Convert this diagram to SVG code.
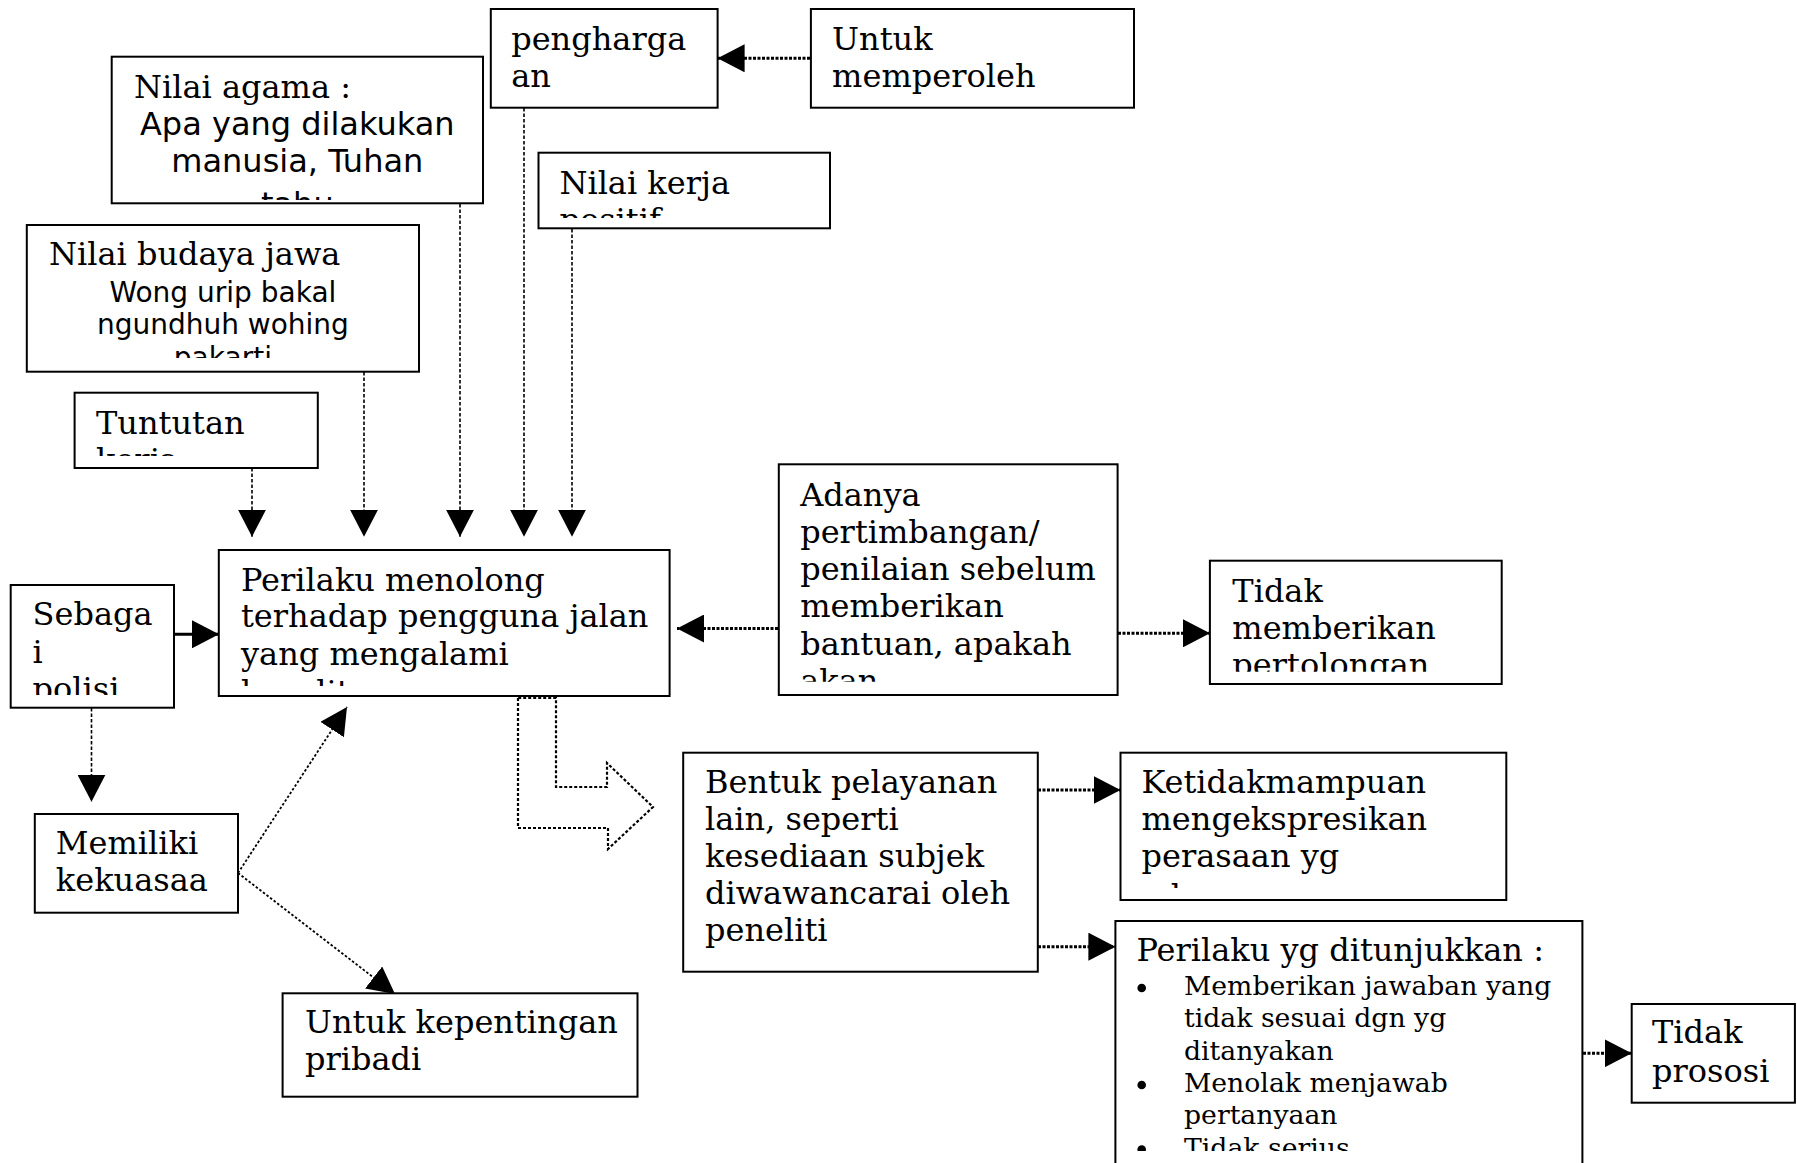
<svg xmlns="http://www.w3.org/2000/svg" width="1797" height="1163" viewBox="0 0 1797 1163">
<style>
.box{fill:#fff;stroke:#000;stroke-width:2}
.t{font-family:"DejaVu Serif",serif;font-size:32px;fill:#000}
.s{font-family:"DejaVu Sans",sans-serif;font-size:32px;fill:#000;text-anchor:middle}
.s28{font-size:28px}
.b{font-size:26.7px}
.dash{stroke:#000;stroke-width:1.6;stroke-dasharray:3.5 2;fill:none}
.dot{stroke:#000;stroke-width:3;stroke-dasharray:3 1.5;fill:none}
.thin{stroke:#000;stroke-width:1.8;stroke-dasharray:2.5 2;fill:none}
.solid{stroke:#000;stroke-width:3;fill:none}
.blk{fill:none;stroke:#000;stroke-width:2.2;stroke-dasharray:3 2}
</style>
<defs>
<marker id="ah" markerUnits="userSpaceOnUse" markerWidth="27" markerHeight="28" viewBox="0 0 27 28" refX="27" refY="14" orient="auto"><path d="M0,0 L27,14 L0,28 z" fill="#000"/></marker>
<clipPath id="c-agama"><rect x="113" y="58" width="369" height="142"/></clipPath>
<clipPath id="c-budaya"><rect x="28" y="226" width="390" height="132"/></clipPath>
<clipPath id="c-tuntutan"><rect x="76" y="394" width="240" height="62"/></clipPath>
<clipPath id="c-kerja"><rect x="540" y="154" width="289" height="64"/></clipPath>
<clipPath id="c-sebagai"><rect x="12" y="586" width="161" height="109"/></clipPath>
<clipPath id="c-perilaku"><rect x="220" y="551" width="449" height="135"/></clipPath>
<clipPath id="c-adanya"><rect x="780" y="465" width="337" height="216.7"/></clipPath>
<clipPath id="c-tidak"><rect x="1211" y="562" width="290" height="109.7"/></clipPath>
<clipPath id="c-ketidak"><rect x="1122" y="754" width="383" height="134"/></clipPath>
<clipPath id="c-memiliki"><rect x="36" y="815" width="201" height="96"/></clipPath>
<clipPath id="c-pyg"><rect x="1117" y="922" width="464" height="229"/></clipPath>
</defs>

<g id="connectors">
<line class="dot" x1="810" y1="58.3" x2="717.6" y2="58.3" marker-end="url(#ah)"/>
<line class="dash" x1="252" y1="468" x2="252" y2="536.7" marker-end="url(#ah)"/>
<line class="dash" x1="364" y1="372" x2="364" y2="536.7" marker-end="url(#ah)"/>
<line class="dash" x1="460" y1="204" x2="460" y2="536.7" marker-end="url(#ah)"/>
<line class="dash" x1="524" y1="108" x2="524" y2="536.7" marker-end="url(#ah)"/>
<line class="dash" x1="572" y1="229" x2="572" y2="536.7" marker-end="url(#ah)"/>
<line class="solid" x1="174" y1="634.3" x2="219" y2="634.3" marker-end="url(#ah)"/>
<line class="dot" x1="778" y1="628.5" x2="677" y2="628.5" marker-end="url(#ah)"/>
<line class="dot" x1="1118" y1="633.3" x2="1210" y2="633.3" marker-end="url(#ah)"/>
<line class="dash" x1="91.5" y1="708" x2="91.5" y2="801.7" marker-end="url(#ah)"/>
<line class="thin" x1="238" y1="873" x2="347" y2="707" marker-end="url(#ah)"/>
<line class="thin" x1="238" y1="873" x2="395" y2="994" marker-end="url(#ah)"/>
<polygon class="blk" points="518,698 518,828 608,828 608,849 653,807 607,763 607,787 556,787 556,698"/>
<line class="dot" x1="1038" y1="790" x2="1120.5" y2="790" marker-end="url(#ah)"/>
<line class="dot" x1="1038" y1="946.7" x2="1115.4" y2="946.7" marker-end="url(#ah)"/>
<line class="dot" x1="1583" y1="1053.3" x2="1631.7" y2="1053.3" marker-end="url(#ah)"/>
</g>

<g id="node-penghargaan">
<rect class="box" x="490.8" y="9" width="226.8" height="98.7"/>
<text class="t"><tspan x="511.2" y="50">pengharga</tspan><tspan x="511.2" y="87.3">an</tspan></text>
</g>
<g id="node-untuk-memperoleh">
<rect class="box" x="810.9" y="9" width="323.1" height="98.7"/>
<text class="t"><tspan x="832.1" y="50">Untuk</tspan><tspan x="832.1" y="87.3">memperoleh</tspan></text>
</g>
<g id="node-nilai-agama">
<rect class="box" x="111.7" y="56.7" width="371.3" height="146.6"/>
<g clip-path="url(#c-agama)">
<text class="t" x="134" y="98.3">Nilai agama :</text>
<text class="s"><tspan x="297.3" y="135">Apa yang dilakukan</tspan><tspan x="297.3" y="171.7">manusia, Tuhan</tspan><tspan x="297.3" y="215">tahu</tspan></text>
</g>
</g>
<g id="node-nilai-kerja">
<rect class="box" x="538.5" y="152.7" width="291.5" height="75.6"/>
<g clip-path="url(#c-kerja)">
<text class="t"><tspan x="559.4" y="194">Nilai kerja</tspan><tspan x="559.4" y="231.3">positif</tspan></text>
</g>
</g>
<g id="node-nilai-budaya">
<rect class="box" x="26.8" y="225" width="392.2" height="146.7"/>
<g clip-path="url(#c-budaya)">
<text class="t" x="49" y="265">Nilai budaya jawa</text>
<text class="s s28"><tspan x="222.9" y="301.7">Wong urip bakal</tspan><tspan x="222.9" y="334.3">ngundhuh wohing</tspan><tspan x="222.9" y="367">pakarti</tspan></text>
</g>
</g>
<g id="node-tuntutan">
<rect class="box" x="74.6" y="392.7" width="243.2" height="75.3"/>
<g clip-path="url(#c-tuntutan)">
<text class="t"><tspan x="96" y="434">Tuntutan</tspan><tspan x="96" y="471.3">kerja</tspan></text>
</g>
</g>
<g id="node-perilaku">
<rect class="box" x="218.8" y="550" width="450.8" height="146"/>
<g clip-path="url(#c-perilaku)">
<text class="t"><tspan x="241" y="590.7">Perilaku menolong</tspan><tspan x="241" y="627.3">terhadap pengguna jalan</tspan><tspan x="241" y="665">yang mengalami</tspan><tspan x="241" y="703">kesulitan</tspan></text>
</g>
</g>
<g id="node-sebagai">
<rect class="box" x="10.7" y="585" width="163.3" height="122.7"/>
<g clip-path="url(#c-sebagai)">
<text class="t"><tspan x="32.6" y="625">Sebaga</tspan><tspan x="32.6" y="662.7">i</tspan><tspan x="32.6" y="700">polisi</tspan></text>
</g>
</g>
<g id="node-adanya">
<rect class="box" x="778.8" y="464.3" width="338.8" height="230.7"/>
<g clip-path="url(#c-adanya)">
<text class="t"><tspan x="800.2" y="505.7">Adanya</tspan><tspan x="800.2" y="542.9">pertimbangan/</tspan><tspan x="800.2" y="580.1">penilaian sebelum</tspan><tspan x="800.2" y="617.3">memberikan</tspan><tspan x="800.2" y="654.5">bantuan, apakah</tspan><tspan x="800.2" y="691.7">akan</tspan></text>
</g>
</g>
<g id="node-tidak-memberikan">
<rect class="box" x="1209.9" y="560.7" width="291.8" height="123.3"/>
<g clip-path="url(#c-tidak)">
<text class="t"><tspan x="1232.3" y="601.7">Tidak</tspan><tspan x="1232.3" y="638.7">memberikan</tspan><tspan x="1232.3" y="675.7">pertolongan</tspan></text>
</g>
</g>
<g id="node-memiliki">
<rect class="box" x="34.8" y="814" width="203.2" height="98.7"/>
<g clip-path="url(#c-memiliki)">
<text class="t"><tspan x="55.8" y="854.3">Memiliki</tspan><tspan x="55.8" y="890.7">kekuasaa</tspan></text>
</g>
</g>
<g id="node-untuk-kepentingan">
<rect class="box" x="282.6" y="993.3" width="354.9" height="103.4"/>
<text class="t"><tspan x="305" y="1033.3">Untuk kepentingan</tspan><tspan x="305" y="1070">pribadi</tspan></text>
</g>
<g id="node-bentuk">
<rect class="box" x="683.2" y="752.7" width="354.6" height="219"/>
<text class="t"><tspan x="705" y="793.3">Bentuk pelayanan</tspan><tspan x="705" y="830.3">lain, seperti</tspan><tspan x="705" y="867.3">kesediaan subjek</tspan><tspan x="705" y="904.3">diwawancarai oleh</tspan><tspan x="705" y="941.3">peneliti</tspan></text>
</g>
<g id="node-ketidakmampuan">
<rect class="box" x="1120.5" y="752.7" width="385.8" height="147.3"/>
<g clip-path="url(#c-ketidak)">
<text class="t"><tspan x="1141.5" y="793.3">Ketidakmampuan</tspan><tspan x="1141.5" y="830.3">mengekspresikan</tspan><tspan x="1141.5" y="867.3">perasaan yg</tspan><tspan x="1141.5" y="907">ada</tspan></text>
</g>
</g>
<g id="node-perilaku-yg">
<rect class="box" x="1115.4" y="921" width="467" height="260"/>
<g clip-path="url(#c-pyg)">
<text class="t" x="1136.4" y="960.7">Perilaku yg ditunjukkan :</text>
<circle cx="1141.7" cy="988" r="4.3"/>
<circle cx="1141.7" cy="1085" r="4.3"/>
<circle cx="1141.7" cy="1149.5" r="4.3"/>
<text class="t b"><tspan x="1184" y="995">Memberikan jawaban yang</tspan><tspan x="1184" y="1027.3">tidak sesuai dgn yg</tspan><tspan x="1184" y="1059.6">ditanyakan</tspan><tspan x="1184" y="1091.9">Menolak menjawab</tspan><tspan x="1184" y="1124.2">pertanyaan</tspan><tspan x="1184" y="1156.5">Tidak serius</tspan></text>
</g>
</g>
<g id="node-tidak-prososi">
<rect class="box" x="1631.7" y="1004" width="163.2" height="98.7"/>
<text class="t"><tspan x="1652" y="1043.3">Tidak</tspan><tspan x="1652" y="1081.7">prososi</tspan></text>
</g>
</svg>
